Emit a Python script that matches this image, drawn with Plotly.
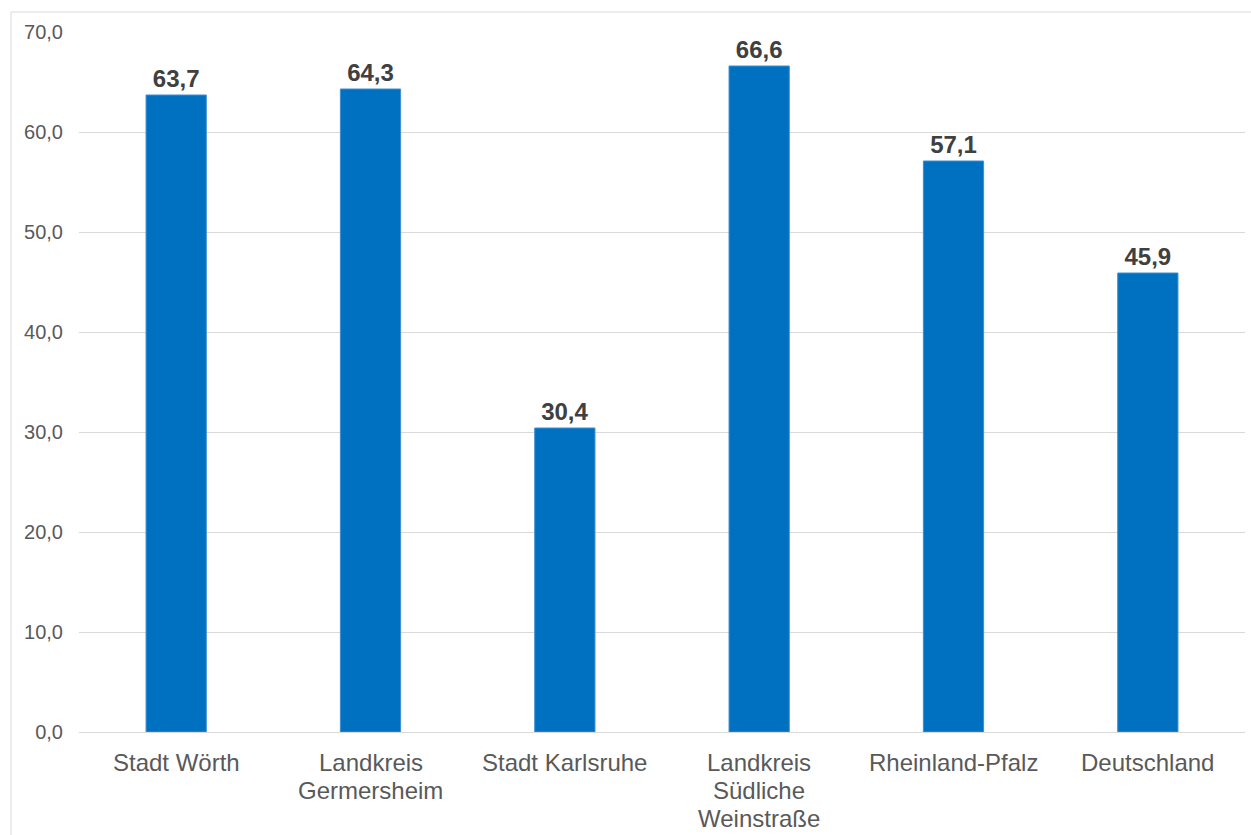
import plotly.graph_objects as go

categories = ["Stadt Wörth", "Landkreis<br>Germersheim", "Stadt Karlsruhe",
              "Landkreis<br>Südliche<br>Weinstraße", "Rheinland-Pfalz", "Deutschland"]
values = [63.7, 64.3, 30.4, 66.6, 57.1, 45.9]
y_ticks = [0, 10, 20, 30, 40, 50, 60, 70]

W, H = 1251, 835
L, R, T, B = 79, 6, 32, 103
pw, ph = W - L - R, H - T - B
FONT = "Liberation Sans, Arial, sans-serif"

fig = go.Figure(go.Bar(
    x=categories,
    y=values,
    marker=dict(color="#0070C0", line=dict(color="#3F8FD2", width=1)),
    texttemplate="<b>%{y:.1f}</b>",
    textposition="outside",
    textfont=dict(family=FONT, size=24, color="#404040"),
    cliponaxis=False,
    hoverinfo="skip",
))

# category labels, one annotation per text line for tight line spacing
annotations = []
for cat in categories:
    for i, line in enumerate(cat.split("<br>")):
        annotations.append(dict(
            x=cat, y=0, xref="x", yref="paper",
            text=line, showarrow=False,
            xanchor="center", yanchor="middle",
            yshift=-30 - 28 * i,
            font=dict(family=FONT, size=24, color="#595959"),
        ))

fig.update_layout(
    width=W, height=H,
    margin=dict(l=L, r=R, t=T, b=B, pad=0),
    paper_bgcolor="white",
    plot_bgcolor="white",
    separators=",.",
    bargap=0.69,
    showlegend=False,
    font=dict(family=FONT, color="#595959"),
    annotations=annotations,
    xaxis=dict(
        showgrid=False,
        showline=False,
        ticks="",
        showticklabels=False,
        fixedrange=True,
    ),
    yaxis=dict(
        range=[0, 70],
        tickvals=y_ticks,
        tickformat=".1f",
        showgrid=True,
        gridcolor="#D9D9D9",
        gridwidth=1,
        zeroline=True,
        zerolinecolor="#D9D9D9",
        zerolinewidth=1,
        showline=False,
        ticks="outside",
        ticklen=11,
        tickcolor="rgba(0,0,0,0)",
        tickfont=dict(size=20, color="#595959"),
        fixedrange=True,
    ),
    shapes=[dict(
        type="rect", xref="paper", yref="paper",
        x0=(11 - L) / pw, x1=(W + 20 - L) / pw,
        y0=-(B + 20) / ph, y1=1 + (T - 12) / ph,
        line=dict(color="#D9D9D9", width=1),
        fillcolor="rgba(0,0,0,0)",
        layer="below",
    )],
)

fig.write_html("out.html")
